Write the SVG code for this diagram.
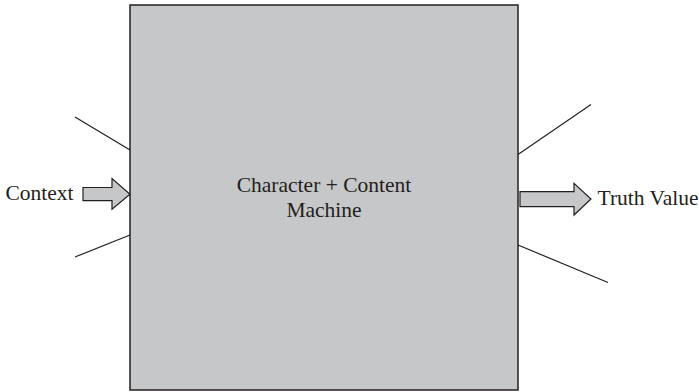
<svg xmlns="http://www.w3.org/2000/svg" width="699" height="392" viewBox="0 0 699 392">
  <style>
    .box { fill: #c6c7c9; stroke: #231f20; stroke-width: 1.5; }
    .arrow { fill: #c6c7c9; stroke: #231f20; stroke-width: 1.2; stroke-linejoin: miter; }
    .wire { stroke: #231f20; stroke-width: 1.2; fill: none; }
    .label { font-family: "Liberation Serif", "Times New Roman", serif; font-size: 21.5px; fill: #231f20; }
  </style>
  <rect width="699" height="392" fill="#ffffff"/>

  <!-- machine -->
  <g id="machine">
    <rect class="box" x="130" y="5" width="388" height="385"/>
    <text class="label" x="324" y="191.5" text-anchor="middle">Character + Content</text>
    <text class="label" x="324" y="217" text-anchor="middle">Machine</text>
  </g>

  <!-- input -->
  <g id="context">
    <text class="label" x="5.5" y="199.5">Context</text>
    <path class="arrow" d="M83,187.5 H112 V178.5 L130,194.3 L112,209.3 V200.7 H83 Z"/>
  </g>

  <!-- output -->
  <g id="truth-value">
    <path class="arrow" d="M520,191.7 H574 V183.3 L591,199 L574,215 V206.7 H520 Z"/>
    <text class="label" x="597.5" y="205">Truth Value</text>
  </g>

  <!-- side leads -->
  <g id="connectors">
    <line class="wire" x1="75" y1="117" x2="130" y2="150"/>
    <line class="wire" x1="75" y1="257" x2="130" y2="235"/>
    <line class="wire" x1="518" y1="154.5" x2="591" y2="104.5"/>
    <line class="wire" x1="518" y1="245" x2="608" y2="282.5"/>
  </g>
</svg>
